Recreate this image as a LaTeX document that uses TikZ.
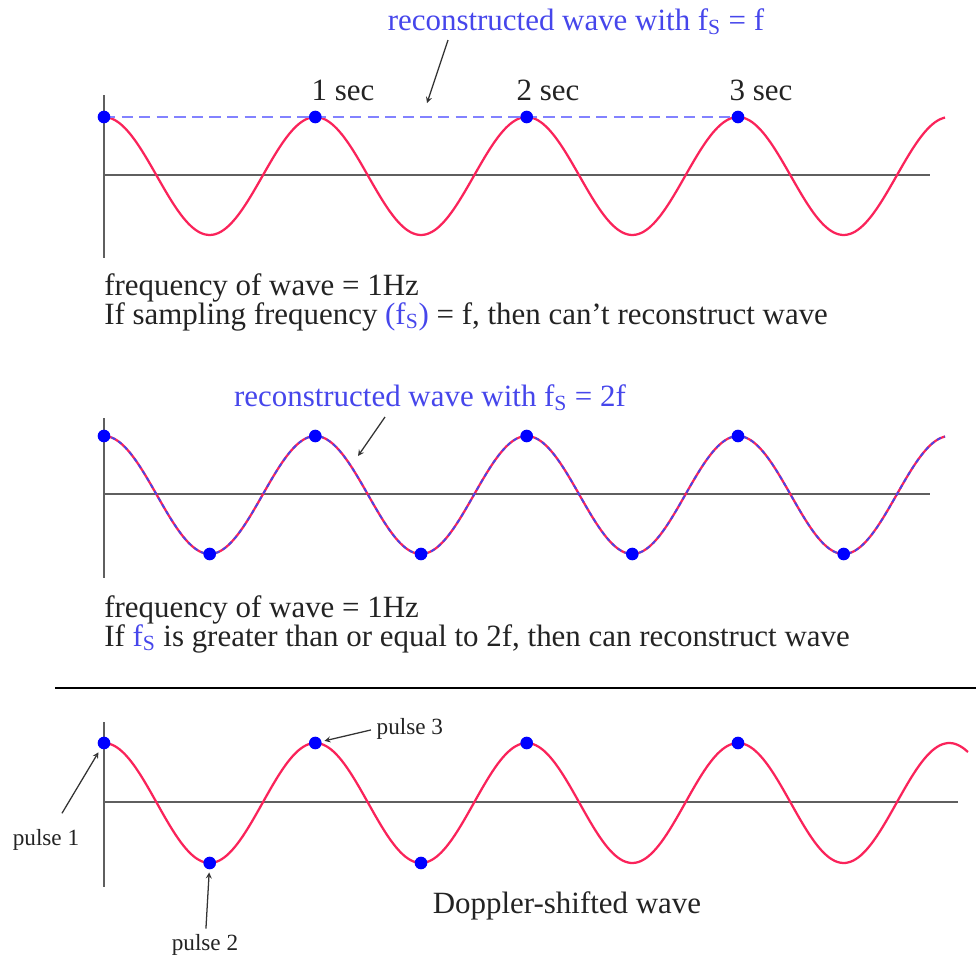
\documentclass[tikz,border=0pt]{standalone}
\usepackage{fontspec}
\setmainfont{Liberation Serif}
\usetikzlibrary{arrows}

\definecolor{wavered}{RGB}{250,35,90}
\definecolor{dotblue}{RGB}{0,0,255}
\definecolor{labelblue}{RGB}{70,70,235}
\definecolor{reconblue}{RGB}{130,130,255}
\definecolor{axisgray}{RGB}{95,95,95}
\definecolor{textgray}{RGB}{35,35,35}

\begin{document}
\begin{tikzpicture}[x=0.025cm, y=-0.025cm,
		wave/.style={draw=wavered, line width=1.6pt},
		axis/.style={draw=axisgray, line width=1.3pt},
		recon/.style={draw=reconblue, line width=1.9pt, dash pattern=on 8pt off 4.5pt},
		overlay/.style={draw=labelblue, line width=1.3pt, dash pattern=on 3pt off 2.5pt},
		sample/.style={circle, fill=dotblue, inner sep=0pt, minimum size=9pt},
		txt/.style={text=textgray, font=\fontsize{22}{21}\selectfont, inner sep=0pt, anchor=base west},
		title/.style={text=labelblue, font=\fontsize{22}{21}\selectfont, inner sep=0pt, anchor=base},
		small/.style={text=textgray, font=\fontsize{16.5}{17}\selectfont, inner sep=1pt},
		ptr/.style={-stealth, line width=0.9pt, black!80}]
	\useasboundingbox (0,0) rectangle (976,961);

	% ---------- panel 1: f_S = f ----------
	\draw [axis] (104, 95) -- (104, 258);
	\draw [axis] (104, 175) -- (930, 175);
	\draw [wave] plot [smooth, samples=160, domain=104:945]
		(\x, {176 - 59*cos(1.7035*(\x-104))});

	\coordinate (k0) at (104, 117);
	\coordinate (k1) at (315.3, 117);
	\coordinate (k2) at (526.7, 117);
	\coordinate (k3) at (738, 117);
	% reconstructed wave (flat)
	\draw [recon] (k0) -- (k3);
	\foreach \i in {0,...,3}
		\node [sample] (a\i) at (k\i) {};

	\node [txt, anchor=base] (sec1) at (343, 100) {1 sec};
	\node [txt, anchor=base] (sec2) at (548, 100) {2 sec};
	\node [txt, anchor=base] (sec3) at (761, 100) {3 sec};

	\node [title] (titleA) at (576, 30) {reconstructed wave with f\textsubscript{S} = f};
	\coordinate (tipA) at (427, 103);
	\coordinate (tailA) at (448, 40);
	\draw [ptr] (tailA) -- (tipA);

	\node [txt] (freqA) at (104, 295) {frequency of wave = 1Hz};
	\node [txt] (ruleA) at (104, 324) {If sampling frequency {\color{labelblue}(f\textsubscript{S})} = f, then can’t reconstruct wave};

	% ---------- panel 2: f_S = 2f ----------
	\draw [axis] (104, 418) -- (104, 578);
	\draw [axis] (104, 494) -- (930, 494);
	\draw [wave] plot [smooth, samples=160, domain=104:945]
		(\x, {495 - 59*cos(1.7035*(\x-104))});
	\draw [overlay] plot [smooth, samples=160, domain=104:945]
		(\x, {495 - 59*cos(1.7035*(\x-104))});

	\foreach \i/\px/\py in {0/104/436, 1/209.7/554, 2/315.3/436, 3/421/554,
			4/526.7/436, 5/632.3/554, 6/738/436, 7/843.7/554}
		\node [sample] (b\i) at (\px, \py) {};

	\node [title] (titleB) at (430, 406) {reconstructed wave with f\textsubscript{S} = 2f};
	\coordinate (tipB) at (358, 456);
	\coordinate (tailB) at (385, 417);
	\draw [ptr] (tailB) -- (tipB);

	\node [txt] (freqB) at (104, 617) {frequency of wave = 1Hz};
	\node [txt] (ruleB) at (104, 646) {If {\color{labelblue}f\textsubscript{S}} is greater than or equal to 2f, then can reconstruct wave};

	% separator
	\draw [line width=2pt, black] (55, 688) -- (976, 688);

	% ---------- panel 3: Doppler ----------
	\draw [axis] (104, 722) -- (104, 887);
	\draw [axis] (104, 802) -- (958, 802);
	\draw [wave] plot [smooth, samples=170, domain=104:968]
		(\x, {803 - 60*cos(1.7035*(\x-104))});

	\node [sample] (c1) at (104, 743) {};
	\node [sample] (c2) at (209.7, 863) {};
	\node [sample] (c3) at (315.3, 743) {};
	\node [sample] (c4) at (421, 863) {};
	\node [sample] (c5) at (526.7, 743) {};
	\node [sample] (c6) at (738, 743) {};

	\node [small] (pulse1) at (46, 840) {pulse 1};
	\node [small] (pulse2) at (205, 945) {pulse 2};
	\node [small, anchor=west] (pulse3) at (375, 729) {pulse 3};
	\draw [ptr, shorten <=12pt, shorten >=3pt] (pulse1) -- (c1);
	\draw [ptr, shorten <=3pt, shorten >=2pt] (pulse2) -- (c2);
	\draw [ptr, shorten <=3pt, shorten >=2pt] (pulse3.west) -- (c3);

	\node [txt, anchor=base] (doppler) at (567, 913) {Doppler-shifted wave};
\end{tikzpicture}
\end{document}
